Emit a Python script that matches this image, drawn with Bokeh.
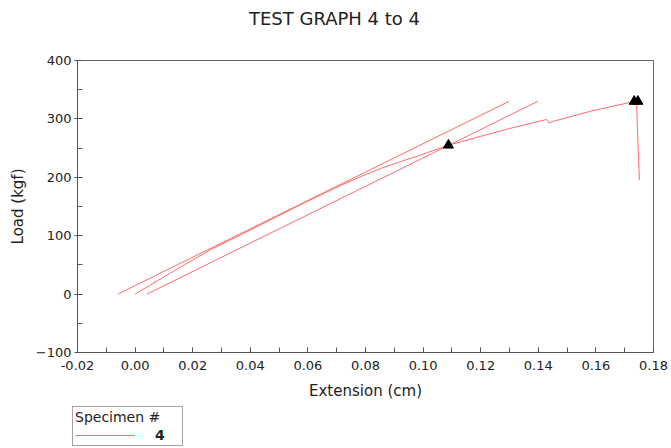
from bokeh.plotting import figure
from bokeh.layouts import column
from bokeh.models import (Range1d, SingleIntervalTicker, NumeralTickFormatter, Legend,
                          LegendItem, Label)
from bokeh.embed import file_html
from bokeh.resources import INLINE

# ---- data ----
title_text = "TEST GRAPH 4 to 4"
x_label = "Extension (cm)"
y_label = "Load (kgf)"
specimen = "4"

# load-extension curve of specimen 4
curve_ext = [0.0, 0.0054, 0.0123, 0.0192, 0.0262, 0.0401, 0.0574, 0.0713, 0.0783, 0.0852,
             0.0922, 0.0991, 0.1088, 0.1199, 0.1304, 0.1429, 0.1437, 0.1453, 0.1581, 0.1734,
             0.1741, 0.1751]
curve_load = [0, 16, 36, 56, 76, 110, 153, 186, 201, 215,
              227, 238, 255, 270, 284, 299, 293, 296, 313, 330,
              326, 195]

# modulus line and offset (yield) line
modulus_ext = [-0.0060, 0.1298]
modulus_load = [0, 330]
offset_ext = [0.0041, 0.1398]
offset_load = [0, 330]

# markers: yield point and peak / break
marker_ext = [0.1088, 0.1733, 0.1746]
marker_load = [255, 330, 330]

FONT = "DejaVu Sans"
LINE_COLOR = "#ff6a6a"
W = 668


def bare_figure(h, xr, yr):
    f = figure(width=W, height=h, title=None, output_backend="svg", toolbar_location=None,
               x_range=xr, y_range=yr,
               x_axis_location=None, y_axis_location=None, min_border=0)
    f.frame_align = False
    f.outline_line_color = None
    f.grid.visible = False
    f.background_fill_color = "white"
    f.border_fill_color = "white"
    return f


# ---- header with the title ----
header = bare_figure(30, Range1d(0, W), Range1d(0, 30))
header.add_layout(Label(x=334, y=12, text=title_text, text_align="center",
                        text_baseline="middle", text_font=FONT, text_font_size="18px",
                        text_color="#222222"))

# ---- main plot ----
p = figure(width=W, height=372, output_backend="svg", toolbar_location=None,
           x_range=Range1d(-0.02, 0.18), y_range=Range1d(-100, 400),
           min_border_left=77, min_border_right=15, min_border_top=30, min_border_bottom=50)
p.title.text = ""
p.background_fill_color = "white"
p.border_fill_color = "white"
p.outline_line_color = "#666666"
p.outline_line_width = 1
p.xgrid.visible = False
p.ygrid.visible = False

xa = p.xaxis[0]
ya = p.yaxis[0]
xa.ticker = SingleIntervalTicker(interval=0.02, num_minor_ticks=2)
ya.ticker = SingleIntervalTicker(interval=100, num_minor_ticks=2)
xa.formatter = NumeralTickFormatter(format="0.00")
xa.axis_label = x_label
ya.axis_label = y_label
for ax in (xa, ya):
    ax.axis_line_color = "#555555"
    ax.major_tick_line_color = "#555555"
    ax.minor_tick_line_color = "#555555"
    ax.major_label_text_font = FONT
    ax.major_label_text_font_size = "13px"
    ax.major_label_text_color = "#222222"
    ax.axis_label_text_font = FONT
    ax.axis_label_text_font_size = "15px"
    ax.axis_label_text_font_style = "normal"
    ax.axis_label_text_color = "#222222"
    ax.minor_tick_in = 5
    ax.minor_tick_out = 0
xa.major_tick_in = 5
xa.major_tick_out = 0
xa.major_label_standoff = 8
xa.axis_label_standoff = 9
ya.major_tick_in = 5
ya.major_tick_out = 3
ya.major_label_standoff = 3
ya.axis_label_standoff = 6

p.line(curve_ext, curve_load, line_color=LINE_COLOR, line_width=1)
p.line(modulus_ext, modulus_load, line_color=LINE_COLOR, line_width=1)
p.line(offset_ext, offset_load, line_color=LINE_COLOR, line_width=1)
p.scatter(marker_ext, marker_load, marker="triangle", size=10,
          fill_color="black", line_color="black")

# ---- footer with the legend (key line drawn from the curve, outside its view) ----
footer = bare_figure(44, Range1d(-2, -1), Range1d(-2, -1))
r_key = footer.line(curve_ext, curve_load, line_color=LINE_COLOR, line_width=1)
legend = Legend(items=[LegendItem(label=specimen, renderers=[r_key])],
                location=(72, 0), orientation="vertical")
legend.title = "Specimen #"
legend.title_text_font = FONT
legend.title_text_font_size = "14px"
legend.title_text_font_style = "normal"
legend.title_text_color = "#222222"
legend.title_standoff = 2
legend.label_text_font = FONT
legend.label_text_font_size = "14px"
legend.label_text_font_style = "bold"
legend.label_text_color = "#222222"
legend.glyph_width = 60
legend.glyph_height = 12
legend.label_height = 12
legend.label_width = 25
legend.label_standoff = 20
legend.padding = 2
legend.spacing = 0
legend.margin = 0
legend.border_line_color = "#444444"
legend.border_line_width = 1
legend.background_fill_color = "white"
legend.background_fill_alpha = 1.0
footer.add_layout(legend, "center")

layout = column(header, p, footer, spacing=0)
open("out.html", "w").write(file_html(layout, INLINE))
